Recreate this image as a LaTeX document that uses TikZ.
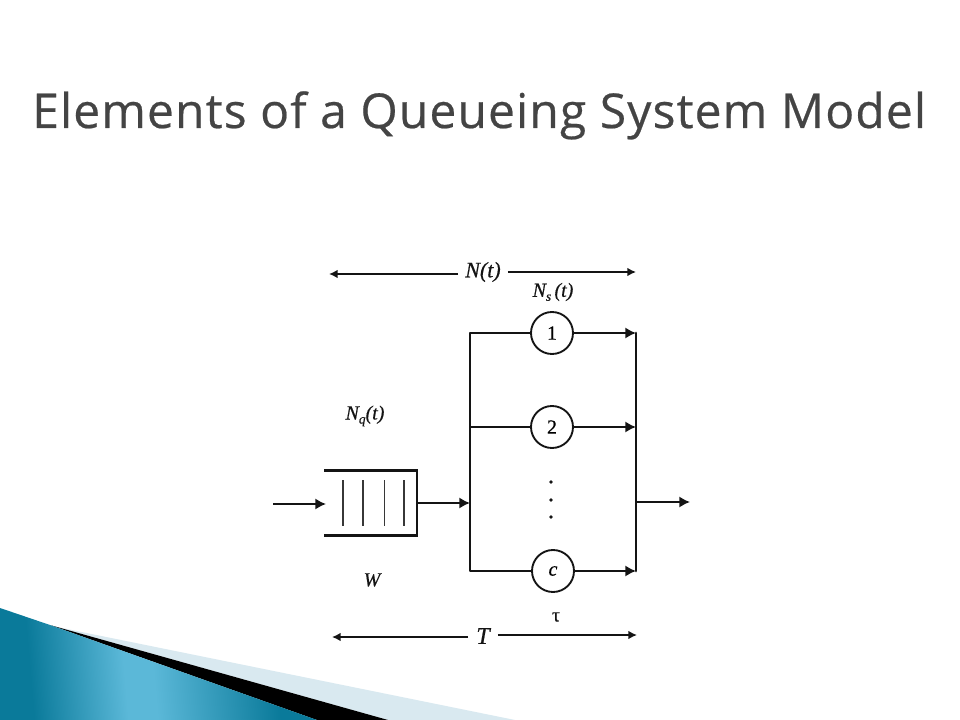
\documentclass[tikz,border=0pt]{standalone}
\usepackage{fontspec}
\setmainfont{Liberation Serif}
\newfontfamily\titlefont[LetterSpace=2.3,FakeBold=0.45]{Open Sans}
\newfontfamily\lblfont[FakeBold=0.5]{Liberation Serif}
\usetikzlibrary{arrows.meta}
\definecolor{ink}{HTML}{141414}
\definecolor{titlegrey}{HTML}{444444}
\definecolor{paleblue}{HTML}{D9E9F0}
\definecolor{teal1}{HTML}{0A7A9A}
\definecolor{teal2}{HTML}{5BB8D8}
\pgfdeclarehorizontalshading{slideband}{100bp}{
  color(0bp)=(teal1); color(32bp)=(teal1); color(45bp)=(teal2); color(49bp)=(teal2); color(66bp)=(teal1); color(100bp)=(teal1)}
\tikzset{
  wire/.style={draw=ink,line width=2.1pt},
  thin wire/.style={draw=ink,line width=1.2pt},
  flow/.style={wire,-{Latex[length=8pt,width=8.5pt]}},
  span/.style={thin wire,-{Latex[length=6.5pt,width=6.5pt]}},
  server/.style={circle,draw=ink,line width=1.4pt,fill=white,minimum size=31.5pt,inner sep=0pt,font=\fontsize{15}{15}\lblfont},
  lbl/.style={inner sep=0pt,text=ink,font=\fontsize{16.5}{18}\lblfont\itshape},
  dot/.style={circle,fill=ink,minimum size=2.8pt,inner sep=0pt},
  slot/.style={draw=ink!85,line width=.9pt}
}
\begin{document}
\begin{tikzpicture}[x=.75pt,y=-.75pt]
\useasboundingbox (0,0) rectangle (960,720);
\fill[white] (0,0) rectangle (960,720);
% corner decoration
\fill[paleblue] (57,627) -- (515,720) -- (388,720) -- cycle;
\fill[black] (50,625) -- (57,627) -- (388,720) -- (317,720) -- cycle;
\begin{scope}
\clip (0,608) -- (50,625) -- (317,720) -- (0,720) -- cycle;
\shade[shading=slideband,shading angle=5] (-30,590) rectangle (350,740);
\end{scope}
% title
\node[anchor=base west,inner sep=0pt,text=titlegrey,font=\fontsize{36}{40}\titlefont] (title) at (32,128) {Elements of a Queueing System Model};
% labels
\node[lbl] (nt) at (483,272) {N(t)};
\node[lbl,font=\fontsize{15}{18}\lblfont\itshape] (ns) at (553,292) {N\raisebox{-3pt}{\fontsize{10}{10}\selectfont s}\,(t)};
\node[lbl,font=\fontsize{15}{18}\lblfont\itshape] (nq) at (365,416) {N\raisebox{-3pt}{\fontsize{10}{10}\selectfont q}(t)};
\node[lbl,font=\fontsize{15}{18}\lblfont\itshape] (w) at (372,580) {W};
\node[lbl,font=\fontsize{15}{15}\lblfont] (tau) at (556,617) {\upshape τ};
\node[lbl,font=\fontsize{18}{20}\lblfont\itshape] (tt) at (483,636) {T};
% span arrows
\coordinate (ntl) at (329,274);
\coordinate (ntr) at (636,272);
\coordinate (ttl) at (332,637);
\coordinate (ttr) at (637,635);
\draw[span] (nt.west |- ntl) ++(-7,0) -- (ntl);
\draw[span] (nt.east |- ntr) ++(7,0) -- (ntr);
\draw[span] (tt.west |- ttl) ++(-8,0) -- (ttl);
\draw[span] (tt.east |- ttr) ++(8,0) -- (ttr);
% servers
\node[server] (s1) at (552,333) {1};
\node[server] (s2) at (552,427) {2};
\node[server] (sc) at (553,571) {\itshape c};
\node[dot] (d1) at (551,482) {};
\node[dot] (d2) at (551,500) {};
\node[dot] (d3) at (551,517) {};
% buses
\coordinate (lt) at (470,333);
\coordinate (lm) at (470,427);
\coordinate (li) at (470,503);
\coordinate (lb) at (470,571);
\coordinate (rt) at (636,333);
\coordinate (rm) at (636,427);
\coordinate (ro) at (636,502);
\coordinate (rb) at (636,571);
\draw[wire,line cap=round,line join=round] (s1.west) -- (lt) -- (lb) -- (sc.west);
\draw[wire] (s2.west) -- (lm);
\draw[wire,line cap=round] (rt) -- (rb);
\draw[flow] (s1.east) -- (rt);
\draw[flow] (s2.east) -- (rm);
\draw[flow] (sc.east) -- (rb);
% queue
\coordinate (qtl) at (324,470.5);
\coordinate (qtr) at (417,470.5);
\coordinate (qbr) at (417,535.5);
\coordinate (qbl) at (324,535.5);
\draw[draw=ink,line width=1.6pt,line join=miter] (qtl) -- (qtr) -- (qbr) -- (qbl);
\foreach \x in {343,363,384.5,404} \draw[slot] (\x,480) -- (\x,526);
\coordinate (inS) at (273,504);
\coordinate (inE) at (326,504);
\coordinate (qo) at (417,503);
\coordinate (outE) at (690,502);
\draw[flow] (inS) -- (inE);
\draw[flow] (qo) -- (li);
\draw[flow] (ro) -- (outE);
\end{tikzpicture}
\end{document}
